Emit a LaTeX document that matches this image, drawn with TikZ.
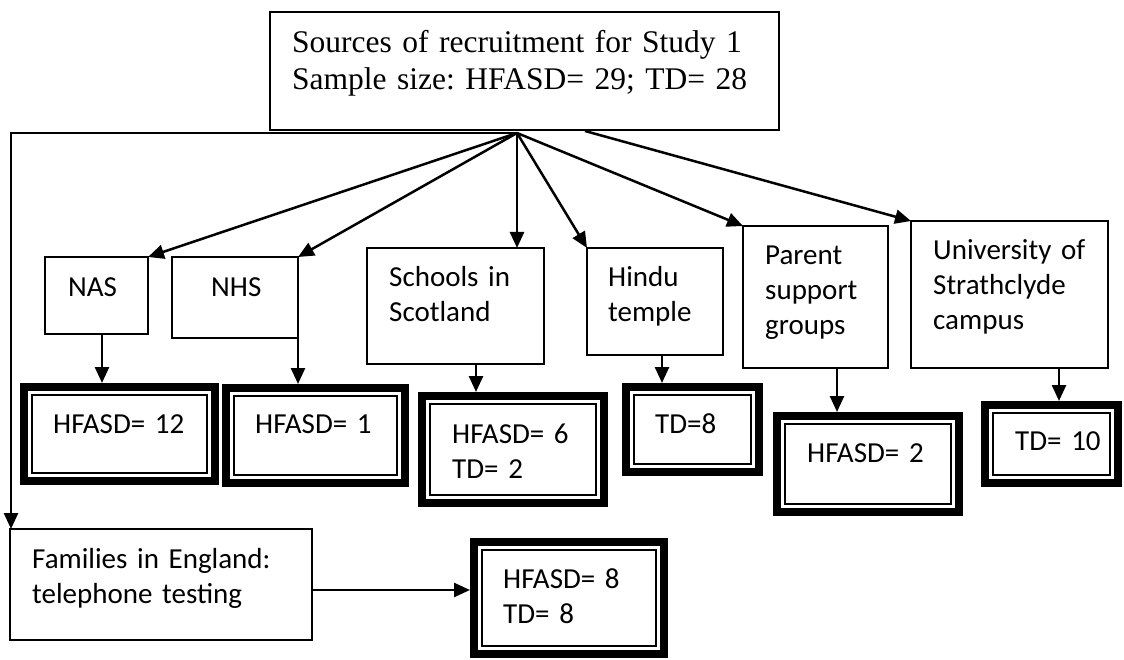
\documentclass[tikz,border=0pt]{standalone}
\usepackage{fontspec}
\setmainfont{Carlito}
\newfontfamily\studyfont{Liberation Serif}
\usetikzlibrary{arrows.meta, calc, positioning}

\tikzset{
    srcbox/.style={draw, line width=2.8pt, inner sep=0pt, outer sep=0pt, anchor=north west},
    resbox/.style={draw, line width=8pt, inner sep=0pt, anchor=north west,
        path picture={\draw[line width=2.2pt]
            ([shift={(8,8)}]path picture bounding box.north west) rectangle
            ([shift={(-8,-8)}]path picture bounding box.south east);}},
    lbl/.style={anchor=base west, inner sep=0pt, align=left, text width=260pt,
        font=\frenchspacing\fontsize{29}{35}\selectfont},
    toplbl/.style={anchor=base west, inner sep=0pt, align=left, text width=480pt,
        font=\frenchspacing\studyfont\fontsize{31.5}{37}\selectfont},
    arr/.style={-{Triangle[length=16pt,width=14pt]}, line width=2.5pt}
}

\begin{document}
\begin{tikzpicture}[x=1pt, y=-1pt]
        \useasboundingbox (0,0) rectangle (1124,660);

        % sources
        \node[srcbox, minimum width=509, minimum height=118] (top) at (270,12) {};
        \node[srcbox, minimum width=103, minimum height=77] (nas) at (45,257) {};
        \node[srcbox, minimum width=126, minimum height=81] (nhs) at (172,257) {};
        \node[srcbox, minimum width=177, minimum height=116] (schools) at (367,248) {};
        \node[srcbox, minimum width=136, minimum height=107] (hindu) at (587,248) {};
        \node[srcbox, minimum width=145, minimum height=142] (parent) at (743,226) {};
        \node[srcbox, minimum width=197, minimum height=147] (univ) at (911,221) {};
        \node[srcbox, minimum width=302, minimum height=111] (fam) at (10,529) {};

        \node[toplbl] (top-t) at ([shift={(22,41)}]top.north west)
            {Sources of recruitment for Study 1\\Sample size: HFASD= 29; TD= 28};
        \node[lbl] (nas-t) at ([shift={(23,39)}]nas.north west) {NAS};
        \node[lbl] (nhs-t) at ([shift={(39,39)}]nhs.north west) {NHS};
        \node[lbl] (schools-t) at ([shift={(22,39)}]schools.north west) {Schools in\\Scotland};
        \node[lbl] (hindu-t) at ([shift={(21,39)}]hindu.north west) {Hindu\\temple};
        \node[lbl] (parent-t) at ([shift={(22,39)}]parent.north west) {Parent\\support\\groups};
        \node[lbl] (univ-t) at ([shift={(22,39)}]univ.north west) {University of\\Strathclyde\\campus};
        \node[lbl] (fam-t) at ([shift={(22,39)}]fam.north west) {Families in England:\\telephone testing};

        % samples
        \node[resbox, minimum width=191, minimum height=94] (h12) at (20,383) {};
        \node[resbox, minimum width=179, minimum height=95] (h1) at (222,384) {};
        \node[resbox, minimum width=182, minimum height=107] (h6) at (418,392) {};
        \node[resbox, minimum width=133, minimum height=85] (td8) at (622,383) {};
        \node[resbox, minimum width=182, minimum height=96] (h2) at (773,412) {};
        \node[resbox, minimum width=133, minimum height=78] (td10) at (981,401) {};
        \node[resbox, minimum width=190, minimum height=112] (h8) at (470,538) {};

        \node[lbl] (h12-t) at ([shift={(33,50)}]h12.north west) {HFASD= 12};
        \node[lbl] (h1-t) at ([shift={(33,49)}]h1.north west) {HFASD= 1};
        \node[lbl] (h6-t) at ([shift={(34,51)}]h6.north west) {HFASD= 6\\TD= 2};
        \node[lbl] (td8-t) at ([shift={(33,50)}]td8.north west) {TD=8};
        \node[lbl] (h2-t) at ([shift={(34,50)}]h2.north west) {HFASD= 2};
        \node[lbl] (td10-t) at ([shift={(34,49)}]td10.north west) {TD= 10};
        \node[lbl] (h8-t) at ([shift={(33,50)}]h8.north west) {HFASD= 8\\TD= 8};

        \coordinate (hub) at (517,133);
        \coordinate (hubr) at (585,131);

        \draw[arr] (hub) -| ([xshift=1pt]fam.north west);
        \draw[arr] (hub) -- (nas.north east);
        \draw[arr] (hub) -- (nhs.north east);
        \draw[arr] (hub) -- (hub |- schools.north);
        \draw[arr] (hub) -- (hindu.north west);
        \draw[arr] (hub) -- (parent.north west);
        \draw[arr] (hubr) -- (univ.north west);

        \draw[arr] ([xshift=5.5pt]nas.south) -- ([xshift=5.5pt]nas.south |- h12.north);
        \draw[arr] (nhs.south east) -- (nhs.south east |- h1.north);
        \draw[arr] ([xshift=20.5pt]schools.south) -- ([xshift=20.5pt]schools.south |- h6.north);
        \draw[arr] ([xshift=7pt]hindu.south) -- ([xshift=7pt]hindu.south |- td8.north);
        \draw[arr] ([xshift=21.5pt]parent.south) -- ([xshift=21.5pt]parent.south |- h2.north);
        \draw[arr] ([xshift=49.5pt]univ.south) -- ([xshift=49.5pt]univ.south |- td10.north);
        \draw[arr] ([yshift=-5.5pt]fam.east) -- ([yshift=-5.5pt]fam.east -| h8.west);
\end{tikzpicture}
\end{document}
